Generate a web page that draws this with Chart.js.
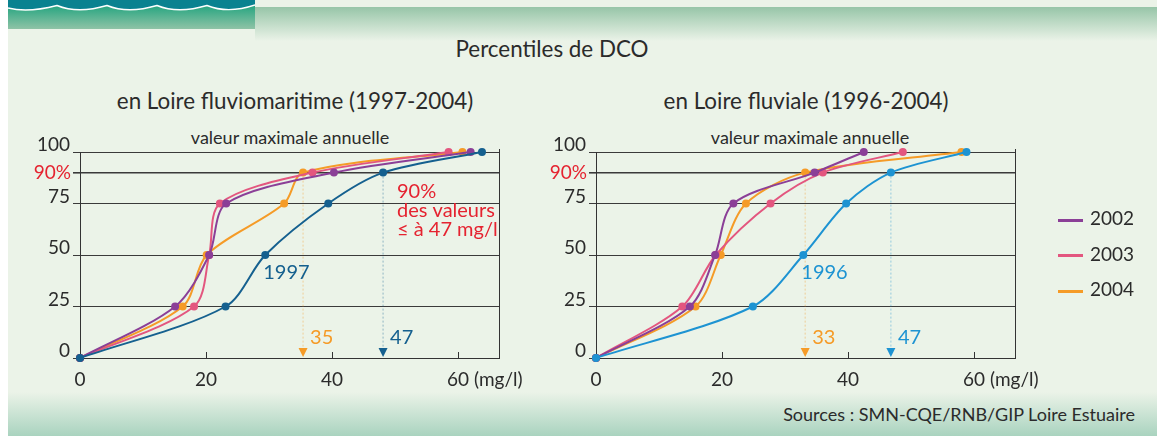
<!DOCTYPE html>
<html>
<head>
<meta charset="utf-8">
<script src="https://cdn.jsdelivr.net/npm/chart.js@4.4.0/dist/chart.umd.min.js"></script>
<style>
  body { margin: 0; width: 1160px; height: 436px; position: relative; overflow: hidden; background: #fff; font-family: Lato, sans-serif; color: #2b2b2b; }
  .bg { position: absolute; left: 8px; top: 0; width: 1149px; height: 436px; background: #ebf3e8; }
  .band { position: absolute; left: 255px; top: 7px; width: 902px; height: 34px; background: linear-gradient(#97c5a8, #ebf3e8); }
  .foot { position: absolute; left: 8px; top: 392px; width: 1149px; height: 44px; background: linear-gradient(#ebf3e8, #a9d3bf); }
  .wave { position: absolute; left: 8px; top: 0; }
  .t { position: absolute; white-space: nowrap; transform: translate(-50%, -50%); }
  .title { font-size: 22.4px; }
  .sub { font-size: 18px; }
  canvas { position: absolute; }
  .leg { position: absolute; left: 1058px; font-size: 19px; }
  .leg span { display: inline-block; width: 25px; height: 3px; vertical-align: middle; margin-right: 7px; }
  .src { position: absolute; right: 25px; top: 403px; font-size: 18px; }
</style>
</head>
<body>
<div class="bg"></div>
<div class="band"></div>
<svg class="wave" width="247" height="29">
  <defs>
    <linearGradient id="g" x1="0" y1="0" x2="0" y2="1">
      <stop offset="0" stop-color="#0e9e78"/>
      <stop offset="1" stop-color="#8fc3a6"/>
    </linearGradient>
  </defs>
  <rect x="0" y="0" width="247" height="29" fill="url(#g)"/>
  <path d="M0 0 L0 8 Q20 13 49 5.5 Q70 14 99 5.5 Q120 14 149 5.5 Q170 14 199 5.5 Q220 14 247 5 L247 0 Z" fill="#0a8290"/>
  <path d="M0 8 Q20 13 49 5.5 Q70 14 99 5.5 Q120 14 149 5.5 Q170 14 199 5.5 Q220 14 247 5" fill="none" stroke="#fff" stroke-width="1.4"/>
</svg>
<div class="foot"></div>

<div class="t title" style="left:552px;top:48px">Percentiles de DCO</div>
<div class="t title" style="left:295px;top:100px">en Loire fluviomaritime (1997-2004)</div>
<div class="t title" style="left:806px;top:100px">en Loire fluviale (1996-2004)</div>
<div class="t sub" style="left:290px;top:137px">valeur maximale annuelle</div>
<div class="t sub" style="left:810px;top:137px">valeur maximale annuelle</div>

<canvas id="left" width="545" height="290" style="left:0;top:110px"></canvas>
<canvas id="right" width="545" height="290" style="left:516px;top:110px"></canvas>

<div id="legend"></div>
<div class="src">Sources : SMN-CQE/RNB/GIP Loire Estuaire</div>

<script>
// percentiles (y) and DCO values in mg/l (x)
const percentiles = [0, 25, 50, 75, 90, 100];
const yTicks = [0, 25, 50, 75, 90, 100];
const xTicks = [0, 20, 40, 60];

const maritimeYears = ['1997', '2002', '2003', '2004'];
const maritime1997 = [0, 23.1, 29.4, 39.4, 48.1, 63.8];
const maritime2002 = [0, 15.1, 20.5, 23.2, 40.3, 62.0];
const maritime2003 = [0, 18.1, 20.5, 22.2, 36.9, 58.5];
const maritime2004 = [0, 16.3, 20.1, 32.4, 35.4, 60.7];

const fluvialeYears = ['1996', '2002', '2003', '2004'];
const fluviale1996 = [0, 24.9, 32.9, 39.7, 46.8, 58.8];
const fluviale2002 = [0, 14.9, 18.9, 21.8, 34.7, 42.5];
const fluviale2003 = [0, 13.7, 19.0, 27.7, 36.0, 48.7];
const fluviale2004 = [0, 15.8, 19.8, 23.8, 33.2, 58.0];

const legendYears = ['2002', '2003', '2004'];

const colors = { '1997': '#15608f', '1996': '#1d93d2', '2002': '#8b3f97', '2003': '#e3567f', '2004': '#f59b27' };
const red = '#e52330';
const ink = '#2b2b2b';
const tickFont = { family: 'Lato', size: 19 };

function pts(vals) {
  return vals.map((v, i) => ({ x: v, y: percentiles[i] }));
}

const decor = {
  id: 'decor',
  beforeDatasetsDraw(chart, args, o) {
    const { ctx, chartArea: a, scales: { x, y } } = chart;
    ctx.save();
    o.arrows.forEach(ar => {
      const p = chart.data.datasets[ar.ds].data[4];
      const px = x.getPixelForValue(p.x);
      ctx.strokeStyle = ar.color;
      ctx.globalAlpha = 0.35;
      ctx.lineWidth = 1.2;
      ctx.setLineDash([2, 2]);
      ctx.beginPath();
      ctx.moveTo(px, y.getPixelForValue(p.y));
      ctx.lineTo(px, a.bottom - 8);
      ctx.stroke();
    });
    ctx.restore();
  },
  afterDraw(chart, args, o) {
    const { ctx, chartArea: a, scales: { x, y } } = chart;
    ctx.save();
    // right border + inward ticks
    ctx.strokeStyle = '#333';
    ctx.lineWidth = 1;
    ctx.beginPath();
    ctx.moveTo(a.right + 0.5, a.top - 3);
    ctx.lineTo(a.right + 0.5, a.bottom);
    xTicks.slice(1).forEach(v => {
      const px = Math.round(x.getPixelForValue(v)) + 0.5;
      ctx.moveTo(px, a.bottom);
      ctx.lineTo(px, a.bottom - 6);
    });
    ctx.stroke();

    ctx.font = '19px Lato';
    // 90% label
    ctx.fillStyle = red;
    ctx.textAlign = 'right';
    ctx.textBaseline = 'middle';
    ctx.fillText('90%', a.left - 9, y.getPixelForValue(90));
    // unit after 60
    ctx.fillStyle = ink;
    ctx.textAlign = 'left';
    const w = ctx.measureText('60').width;
    ctx.fillText('(mg/l)', x.getPixelForValue(60) + w / 2 + 5, a.bottom + 10 + 11.4);

    // arrows and their values
    o.arrows.forEach(ar => {
      const px = x.getPixelForValue(chart.data.datasets[ar.ds].data[4].x);
      ctx.fillStyle = ar.color;
      ctx.beginPath();
      ctx.moveTo(px - 4.5, a.bottom - 10);
      ctx.lineTo(px + 4.5, a.bottom - 10);
      ctx.lineTo(px, a.bottom - 1);
      ctx.closePath();
      ctx.fill();
      ctx.font = '20px Lato';
      ctx.textAlign = 'left';
      ctx.fillText(ar.text, px + 7, a.bottom - 20);
    });

    // year label near the median point
    const m = chart.data.datasets[0].data[2];
    ctx.fillStyle = chart.data.datasets[0].borderColor;
    ctx.font = '20px Lato';
    ctx.textAlign = 'left';
    ctx.fillText(chart.data.datasets[0].label, x.getPixelForValue(m.x) - 2, y.getPixelForValue(m.y) + 18);

    // free annotation
    if (o.note) {
      ctx.fillStyle = red;
      ctx.font = '20px Lato';
      o.note.forEach((line, i) => ctx.fillText(line, o.noteX, o.noteY + i * 19));
    }
    ctx.restore();
  }
};

function makeChart(id, years, series, arrows, note) {
  return new Chart(document.getElementById(id), {
    type: 'line',
    data: {
      datasets: years.map((yr, i) => ({
        label: yr,
        data: pts(series[i]),
        borderColor: colors[yr],
        backgroundColor: colors[yr],
        pointBackgroundColor: colors[yr],
        borderWidth: 2,
        pointRadius: 4,
        pointBorderWidth: 0,
        tension: 0.3,
        clip: false
      }))
    },
    options: {
      responsive: false,
      devicePixelRatio: 1,
      animation: false,
      layout: { padding: { left: 0, top: 42, right: 46, bottom: 0 } },
      plugins: {
        legend: { display: false },
        tooltip: { enabled: false },
        decor: Object.assign({ arrows: arrows }, note || {})
      },
      scales: {
        x: {
          type: 'linear',
          min: 0,
          max: 66.5,
          afterFit: s => { s.height = 42; },
          afterBuildTicks: s => { s.ticks = xTicks.map(v => ({ value: v })); },
          grid: { display: false, drawTicks: false },
          border: { display: true, color: '#333', width: 1 },
          ticks: { color: ink, font: tickFont, padding: 10, maxRotation: 0 }
        },
        y: {
          type: 'linear',
          min: 0,
          max: 100,
          afterFit: s => { s.width = 80; },
          afterBuildTicks: s => { s.ticks = yTicks.map(v => ({ value: v })); },
          grid: {
            color: '#3a3a3a',
            lineWidth: c => (c.tick && c.tick.value === 90 ? 1.6 : 1),
            tickLength: 7
          },
          border: { display: true, color: '#333', width: 1 },
          ticks: {
            color: ink,
            font: tickFont,
            padding: 3,
            labelOffset: -7,
            callback: v => (v === 90 ? '' : String(v))
          }
        }
      }
    },
    plugins: [decor]
  });
}

makeChart('left', maritimeYears,
  [maritime1997, maritime2002, maritime2003, maritime2004],
  [{ ds: 3, text: '35', color: colors['2004'] }, { ds: 0, text: '47', color: colors['1997'] }],
  { note: ['90%', 'des valeurs', '\u2264 \u00e0 47 mg/l'], noteX: 397, noteY: 82 });

makeChart('right', fluvialeYears,
  [fluviale1996, fluviale2002, fluviale2003, fluviale2004],
  [{ ds: 3, text: '33', color: colors['2004'] }, { ds: 0, text: '47', color: colors['1996'] }]);

// legend
const leg = document.getElementById('legend');
legendYears.forEach((yr, i) => {
  const d = document.createElement('div');
  d.className = 'leg';
  d.style.top = (206 + i * 35.5) + 'px';
  d.innerHTML = '<span style="background:' + colors[yr] + '"></span>' + yr;
  leg.appendChild(d);
});
</script>
</body>
</html>
